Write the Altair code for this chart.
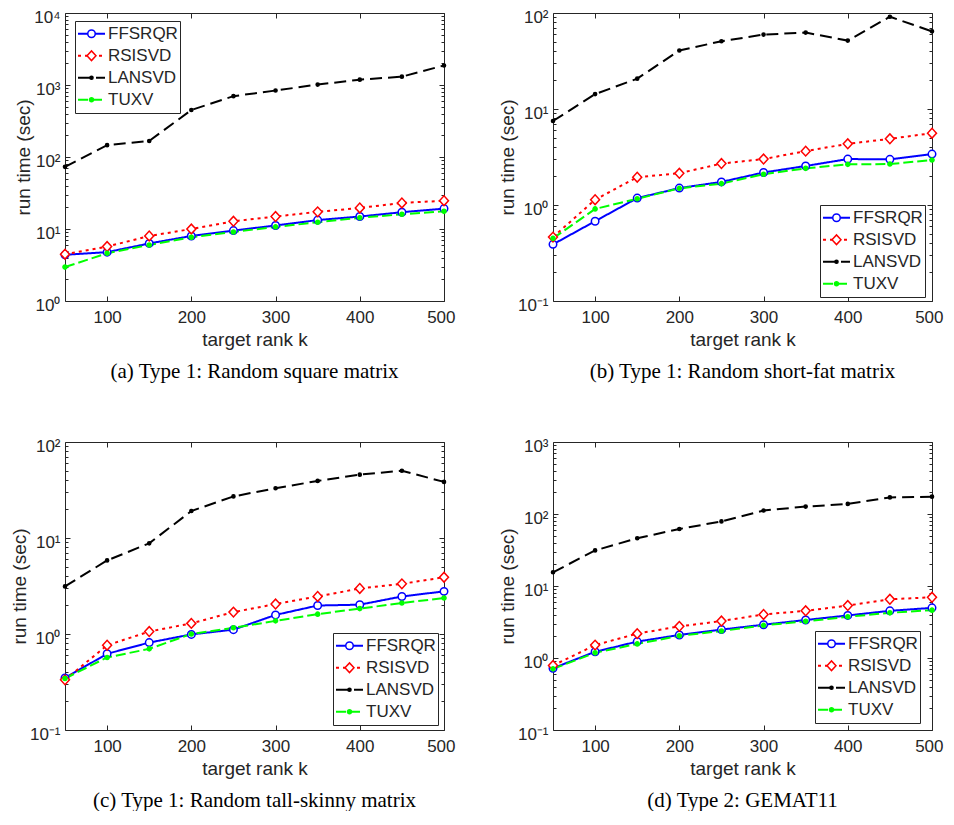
import altair as alt
import pandas as pd

K = [50, 100, 150, 200, 250, 300, 350, 400, 450, 500]
SERIES = ["FFSRQR", "RSISVD", "LANSVD", "TUXV"]
COLORS = ["#0000ff", "#ff0000", "#000000", "#00ff00"]
FILLS = ["#ffffff", "#ffffff", "#000000", "#00ff00"]
DASHES = [[1, 0], [3, 4], [12, 6], [10, 4]]
# marker glyphs: open circle, open diamond, small dot, dot
SHAPES = [
    "circle",
    "M-1.2,0L0,-1.3L1.2,0L0,1.3Z",
    "M0.42,0A0.42,0.42,0,1,1,-0.42,0A0.42,0.42,0,1,1,0.42,0Z",
    "M0.55,0A0.55,0.55,0,1,1,-0.55,0A0.55,0.55,0,1,1,0.55,0Z",
]
X_TICKS = [100, 200, 300, 400, 500]

# (a) Type 1: random square matrix
A_FFSRQR = [4.38, 4.77, 6.3, 8.0, 9.5, 11.2, 13.3, 14.9, 17.1, 19.2]
A_RSISVD = [4.47, 5.7, 8.0, 10.0, 12.8, 14.9, 17.3, 19.6, 23.0, 24.7]
A_LANSVD = [73, 146, 167, 450, 700, 838, 1013, 1187, 1305, 1868]
A_TUXV = [2.96, 4.6, 6.0, 7.66, 9.1, 10.7, 12.4, 14.3, 16.0, 17.6]
# (b) Type 1: random short-fat matrix
B_FFSRQR = [0.389, 0.678, 1.18, 1.5, 1.74, 2.18, 2.55, 3.01, 2.99, 3.39]
B_RSISVD = [0.463, 1.135, 1.95, 2.14, 2.7, 3.01, 3.64, 4.34, 4.89, 5.6]
B_LANSVD = [7.5, 14.3, 20.7, 40.7, 50.8, 59.6, 62.5, 51.6, 91.5, 64.4]
B_TUXV = [0.449, 0.91, 1.16, 1.49, 1.67, 2.09, 2.41, 2.65, 2.67, 2.94]
# (c) Type 1: random tall-skinny matrix
C_FFSRQR = [0.349, 0.622, 0.814, 0.99, 1.11, 1.58, 1.98, 2.02, 2.46, 2.78]
C_RSISVD = [0.333, 0.764, 1.06, 1.29, 1.69, 2.05, 2.46, 2.98, 3.33, 3.9]
C_LANSVD = [3.13, 5.84, 8.8, 19.1, 27.1, 33.0, 39.3, 45.7, 50.2, 38.4]
C_TUXV = [0.344, 0.57, 0.7, 1.0, 1.16, 1.37, 1.61, 1.84, 2.1, 2.37]
# (d) Type 2: GEMAT11
D_FFSRQR = [0.72, 1.22, 1.69, 2.09, 2.48, 2.9, 3.37, 3.9, 4.52, 4.97]
D_RSISVD = [0.785, 1.51, 2.18, 2.75, 3.26, 4.03, 4.52, 5.35, 6.54, 6.97]
D_LANSVD = [15.5, 31.2, 46, 61.9, 78.9, 111.7, 126.8, 138, 170, 174]
D_TUXV = [0.706, 1.18, 1.57, 2.03, 2.37, 2.84, 3.23, 3.74, 4.24, 4.62]

CAPTIONS = [
    "(a)  Type 1: Random square matrix",
    "(b) Type 1: Random short-fat matrix",
    "(c) Type 1: Random tall-skinny matrix",
    "(d) Type 2: GEMAT11",
]
Y_EXPS = [[0, 1, 2, 3, 4], [-1, 0, 1, 2], [-1, 0, 1, 2], [-1, 0, 1, 2, 3]]
LEGEND_XY = [(10, 8), (267, 192), (268, 191), (262, 189)]

W, H = 379, 288
INK = "#262626"
SUP = {-1: "\u207b\u00b9", 0: "\u2070", 1: "\u00b9", 2: "\u00b2", 3: "\u00b3", 4: "\u2074"}
MK = ["o:" + s for s in SERIES]  # marker keys (kept distinct so marker legend stays separate)


def label_expr(exps):
    expr = "''"
    for e in exps:
        expr = f"abs(log(datum.value)/LN10 - ({e})) < 0.01 ? '10{SUP[e]}' : ({expr})"
    return expr


MAJOR_TEST = "abs(log(datum.value)/LN10 - round(log(datum.value)/LN10)) < 0.01"


def panel(series_vals, exps, caption, lxy):
    rows = []
    for s, m, vals in zip(SERIES, MK, series_vals):
        for k, t in zip(K, vals):
            rows.append({"k": k, "t": t, "series": s, "mk": m})
    df = pd.DataFrame(rows)
    majors = [10.0 ** e for e in exps]
    minors = [m * 10.0 ** e for e in exps[:-1] for m in range(2, 10)]
    allticks = sorted(majors + minors)
    xs = alt.Scale(domain=[50, 500], nice=False, zero=False)
    ys = alt.Scale(type="log", domain=[majors[0], majors[-1]], nice=False)
    lx, ly = lxy
    common_leg = dict(orient="none", legendX=lx, legendY=ly, title=None,
                      clipHeight=21.5, rowPadding=0, padding=2, labelOffset=2,
                      labelFont="Liberation Sans", labelFontSize=17)
    line_leg = alt.Legend(symbolType="stroke", symbolSize=729, symbolStrokeWidth=2,
                          labelColor=INK, strokeColor=INK, fillColor="white",
                          zindex=1, **common_leg)
    mk_leg = alt.Legend(symbolSize=56, symbolStrokeWidth=1.5, symbolOffset=6,
                        labelExpr="''", strokeColor="transparent",
                        fillColor="transparent", zindex=2, **common_leg)
    ts = {"condition": {"test": MAJOR_TEST, "value": 5}, "value": 3}
    base = alt.Chart(df)
    lines = base.mark_line(strokeWidth=2).encode(
        x=alt.X("k:Q", scale=xs, axis=alt.Axis(
            orient="bottom", values=X_TICKS, ticks=False, tickSize=0, labelPadding=8.5,
            labelFlush=1, labelFlushOffset=11, title="target rank k", titlePadding=5,
            format="d")),
        y=alt.Y("t:Q", scale=ys, axis=alt.Axis(
            orient="left", values=majors, ticks=False, tickSize=0, labelPadding=5,
            labelFlush=False, labelExpr=label_expr(exps), labelOffset=4,
            title="run time (sec)", titlePadding=0)),
        color=alt.Color("series:N", scale=alt.Scale(domain=SERIES, range=COLORS), legend=line_leg),
        strokeDash=alt.StrokeDash("series:N", scale=alt.Scale(domain=SERIES, range=DASHES), legend=line_leg),
    )
    pts = base.mark_point(filled=True, opacity=1, strokeWidth=1.5, size=56).encode(
        x=alt.X("k:Q", scale=xs, axis=alt.Axis(
            orient="top", offset=-H, values=X_TICKS, labels=False, tickSize=5, title=None)),
        y=alt.Y("t:Q", scale=ys, axis=alt.Axis(
            orient="right", offset=-W, values=allticks, labels=False, tickSize=ts, title=None)),
        shape=alt.Shape("mk:N", scale=alt.Scale(domain=MK, range=SHAPES), legend=mk_leg),
        fill=alt.Fill("mk:N", scale=alt.Scale(domain=MK, range=FILLS), legend=mk_leg),
        stroke=alt.Stroke("mk:N", scale=alt.Scale(domain=MK, range=COLORS), legend=mk_leg),
    )
    ghost = base.mark_point(opacity=0).encode(
        x=alt.X("k:Q", scale=xs, axis=alt.Axis(
            orient="bottom", offset=-H, values=X_TICKS, labels=False, tickSize=5, title=None)),
        y=alt.Y("t:Q", scale=ys, axis=alt.Axis(
            orient="left", offset=-W, values=allticks, labels=False, tickSize=ts, title=None)),
    )
    return alt.layer(lines, pts, ghost).resolve_axis(
        x="independent", y="independent"
    ).properties(
        width=W, height=H,
        title=alt.TitleParams(caption, orient="bottom", font="Liberation Serif", fontSize=21,
                              fontWeight="normal", color="black", offset=11, frame="group",
                              anchor="middle"),
    )


DATA = [
    [A_FFSRQR, A_RSISVD, A_LANSVD, A_TUXV],
    [B_FFSRQR, B_RSISVD, B_LANSVD, B_TUXV],
    [C_FFSRQR, C_RSISVD, C_LANSVD, C_TUXV],
    [D_FFSRQR, D_RSISVD, D_LANSVD, D_TUXV],
]
panels = [panel(DATA[i], Y_EXPS[i], CAPTIONS[i], LEGEND_XY[i]) for i in range(4)]

chans = dict(color="independent", stroke="independent", fill="independent",
             shape="independent", strokeDash="independent")
chart = alt.concat(*panels, columns=2, spacing={"row": 141, "column": 109}, bounds="flush").resolve_scale(
    **chans).resolve_legend(**chans).properties(
    padding={"left": 1, "top": -1, "right": 0, "bottom": 0}, background="white"
).configure_view(stroke=INK, strokeWidth=1).configure_axis(
    grid=False, domain=False, labelFont="Liberation Sans", labelFontSize=17, labelColor=INK,
    titleFont="Liberation Sans", titleFontSize=19, titleFontWeight="normal", titleColor=INK,
    tickColor=INK, tickWidth=1,
)

chart.save("out.html", embed_options={"renderer": "svg", "actions": False})
